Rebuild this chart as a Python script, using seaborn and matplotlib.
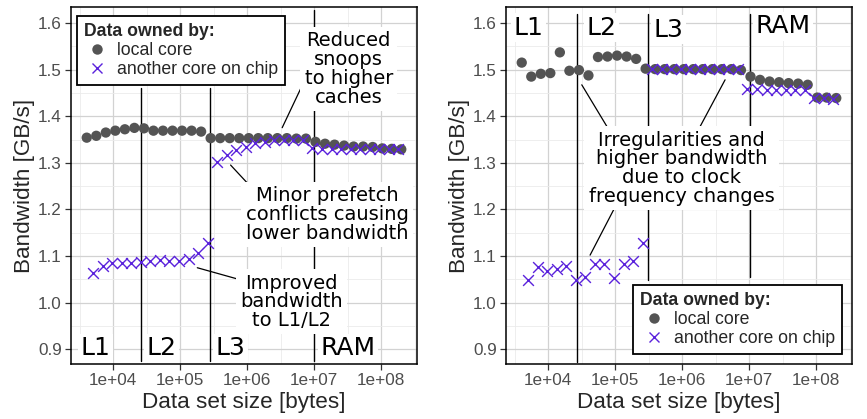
import matplotlib
matplotlib.use("Agg")
import matplotlib.pyplot as plt
import seaborn as sns
import pandas as pd
from matplotlib.lines import Line2D
from matplotlib.ticker import FixedLocator, NullFormatter

# ---------------- data ----------------
local_sizes = [4000, 5553, 7708, 10697, 14848, 20606, 28601, 39697, 55101, 76481,
               106170, 147360, 204540, 283900, 394070, 546980, 759210, 1053800,
               1462700, 2030200, 2817900, 3911300, 5428900, 7535400, 10460000,
               14518000, 20151000, 27971000, 38823000, 53887000, 74796000,
               103820000, 144100000, 200010000]
remote_sizes = [5000, 6940, 9633, 13370, 18557, 25757, 35751, 49622, 68877, 95601,
                132690, 184190, 255650, 354840, 492510, 683620, 948870, 1317000,
                1828000, 2537300, 3521700, 4888200, 6784800, 9419700, 13076000,
                18149000, 25191000, 34966000, 48529000, 67361000, 93495000,
                129770000, 180130000]

left_local_bw = [1.354, 1.358, 1.365, 1.369, 1.372, 1.375, 1.374, 1.369, 1.369, 1.369,
                 1.369, 1.369, 1.367, 1.353, 1.353, 1.353, 1.353, 1.353, 1.353, 1.353,
                 1.353, 1.353, 1.352, 1.352, 1.345, 1.341, 1.339, 1.337, 1.335, 1.335,
                 1.334, 1.331, 1.330, 1.329]
left_remote_bw = [1.064, 1.079, 1.0845, 1.0845, 1.086, 1.088, 1.090, 1.0915, 1.090, 1.090,
                  1.093, 1.106, 1.129, 1.301, 1.317, 1.3275, 1.335, 1.342, 1.345, 1.348,
                  1.349, 1.350, 1.350, 1.332, 1.330, 1.330, 1.330, 1.330, 1.330, 1.329,
                  1.329, 1.329, 1.329]
right_local_bw = [1.515, 1.485, 1.491, 1.4925, 1.537, 1.4975, 1.499, 1.4875, 1.527, 1.528,
                  1.530, 1.528, 1.523, 1.502, 1.501, 1.501, 1.501, 1.501, 1.501, 1.501,
                  1.501, 1.501, 1.501, 1.499, 1.485, 1.478, 1.4745, 1.473, 1.471, 1.470,
                  1.4675, 1.440, 1.440, 1.439]
right_remote_bw = [1.048, 1.077, 1.068, 1.072, 1.078, 1.048, 1.056, 1.084, 1.084, 1.054,
                   1.084, 1.089, 1.127, 1.502, 1.502, 1.502, 1.502, 1.502, 1.502, 1.502,
                   1.502, 1.502, 1.502, 1.458, 1.458, 1.457, 1.457, 1.457, 1.456, 1.456,
                   1.440, 1.439, 1.438]

owners = ["local core", "another core on chip"]
legend_title = "Data owned by:"
xtick_vals = [1e4, 1e5, 1e6, 1e7, 1e8]
xtick_labels = ["1e+04", "1e+05", "1e+06", "1e+07", "1e+08"]
ytick_vals = [0.9, 1.0, 1.1, 1.2, 1.3, 1.4, 1.5, 1.6]
ytick_labels = ["0.9", "1.0", "1.1", "1.2", "1.3", "1.4", "1.5", "1.6"]
cache_labels = ["L1", "L2", "L3", "RAM"]

# cache boundary separators (x, y_start, y_end)
left_bounds = [(10**4.407, 1.4605, 0.8748), (10**5.442, 1.4605, 0.8748), (10**6.994, 1.628, 0.8748)]
right_bounds = [(10**4.433, 1.620, 0.8726), (10**5.485, 1.620, 1.0483), (10**7.009, 1.620, 1.0548)]

left_note_texts = ["Reduced\nsnoops\nto higher\ncaches",
                   "Minor prefetch\nconflicts causing\nlower bandwidth",
                   "Improved\nbandwidth\nto L1/L2"]
right_note_texts = ["Irregularities and\nhigher bandwidth\ndue to clock\nfrequency changes"]

GRAY = "#545454"
PURPLE = "#5a22dc"

sns.set_theme(style="whitegrid")
plt.rcParams['font.family'] = ['Liberation Sans', 'DejaVu Sans']

fig = plt.figure(figsize=(8.67, 4.19), dpi=100)
axL = fig.add_axes([71/867, 55/419, 346/867, 357/419])
axR = fig.add_axes([506/867, 55/419, 346/867, 357/419])

ANN = dict(family=['DejaVu Sans'], color='black')
BOX = dict(boxstyle='square,pad=0.22', fc='white', ec='none')


def base(ax, local_bw, remote_bw):
    dl = pd.DataFrame({"size": local_sizes, "bw": local_bw, "owner": owners[0]})
    dr = pd.DataFrame({"size": remote_sizes, "bw": remote_bw, "owner": owners[1]})
    sns.scatterplot(data=dl, x="size", y="bw", ax=ax, color=GRAY, marker='o', s=55,
                    edgecolor='none', linewidth=0, zorder=3, legend=False)
    sns.scatterplot(data=dr, x="size", y="bw", ax=ax, color=PURPLE, marker='x', s=60,
                    linewidth=1.0, zorder=4, legend=False)
    ax.set_xscale('log')
    ax.set_xlim(10**3.367, 10**8.536)
    ax.set_ylim(0.8685, 1.6343)
    ax.set_xticks(xtick_vals, xtick_labels)
    ax.xaxis.set_minor_locator(FixedLocator([10**3.5, 10**4.5, 10**5.5, 10**6.5, 10**7.5, 10**8.5]))
    ax.xaxis.set_minor_formatter(NullFormatter())
    ax.set_yticks(ytick_vals, ytick_labels)
    ax.yaxis.set_minor_locator(FixedLocator([0.95, 1.05, 1.15, 1.25, 1.35, 1.45, 1.55]))
    ax.set_axisbelow(True)
    ax.grid(which='major', color='#D2D2D2', lw=0.9)
    ax.grid(which='minor', color='#EBEBEB', lw=0.6)
    ax.tick_params(which='minor', length=0)
    ax.tick_params(which='major', length=4, width=0.9, color='#333333', labelsize=12.3,
                   labelcolor='#4D4D4D', pad=2.5, left=True, bottom=True)
    for s in ax.spines.values():
        s.set_color('black')
        s.set_linewidth(1.1)
    ax.set_xlabel('Data set size [bytes]', fontsize=16.2, labelpad=3)
    ax.set_ylabel('Bandwidth [GB/s]', fontsize=16.2, labelpad=2)


def bounds(ax, blist):
    for x, y0, y1 in blist:
        ax.plot([x, x], [y0, y1], color='black', lw=1.0, zorder=2.5)


def legend(ax, anchor):
    h1 = Line2D([], [], ls='none', marker='o', ms=7.5, color=GRAY, mec='none')
    h2 = Line2D([], [], ls='none', marker='x', ms=7.5, color=PURPLE, mew=1.0)
    leg = ax.legend([h1, h2], owners, title=legend_title, loc='upper left',
                    bbox_to_anchor=anchor, frameon=True, fancybox=False, edgecolor='black',
                    framealpha=1, borderpad=0.4, labelspacing=0.12, handlelength=1.5,
                    handletextpad=0.4, borderaxespad=0, prop={'size': 12.7},
                    title_fontproperties={'weight': 'bold', 'size': 12.7}, alignment='left')
    leg.get_frame().set_linewidth(1.3)
    leg.set_zorder(10)


# ---------- left panel ----------
base(axL, left_local_bw, left_remote_bw)
bounds(axL, left_bounds)
legend(axL, (0.0165, 0.975))
for (x, y), lab in zip([(10**3.512, 0.9021), (10**4.497, 0.9021), (10**5.527, 0.9021), (10**7.094, 0.9021)], cache_labels):
    axL.text(x, y, lab, ha='left', va='center', fontsize=18, bbox=dict(boxstyle='square,pad=0.1', fc='white', ec='none'), zorder=6, **ANN)
for (x, y), t in zip([(10**7.516, 1.5013), (10**7.194, 1.1892), (10**6.657, 1.0021)], left_note_texts):
    axL.text(x, y, t, ha='center', va='center', fontsize=14, linespacing=0.98, bbox=BOX, zorder=6, **ANN)
for (x0, y0), (x1, y1) in [((10**6.522, 1.3754), (10**6.9, 1.49)),
                           ((10**5.751, 1.2953), (10**6.2, 1.226)),
                           ((10**5.2537, 1.075), (10**6.0, 1.045))]:
    axL.plot([x0, x1], [y0, y1], color='black', lw=0.9, zorder=5)

# ---------- right panel ----------
base(axR, right_local_bw, right_remote_bw)
bounds(axR, right_bounds)
legend(axR, (0.368, 0.2213))
for (x, y), lab in zip([(10**3.477, 1.5893), (10**4.563, 1.5893), (10**5.569, 1.5856), (10**7.088, 1.5927)], cache_labels):
    axR.text(x, y, lab, ha='left', va='center', fontsize=18, bbox=dict(boxstyle='square,pad=0.1', fc='white', ec='none'), zorder=6, **ANN)
axR.text(10**5.990, 1.2884, right_note_texts[0], ha='center', va='center', fontsize=14,
         linespacing=0.98, bbox=BOX, zorder=6, **ANN)
for (x0, y0), (x1, y1) in [((10**4.499, 1.4674), (10**4.95, 1.36)),
                           ((10**6.640, 1.4781), (10**6.2, 1.36)),
                           ((10**4.623, 1.102), (10**5.05, 1.22))]:
    axR.plot([x0, x1], [y0, y1], color='black', lw=0.9, zorder=5)

fig.savefig("out.png", dpi=100)
